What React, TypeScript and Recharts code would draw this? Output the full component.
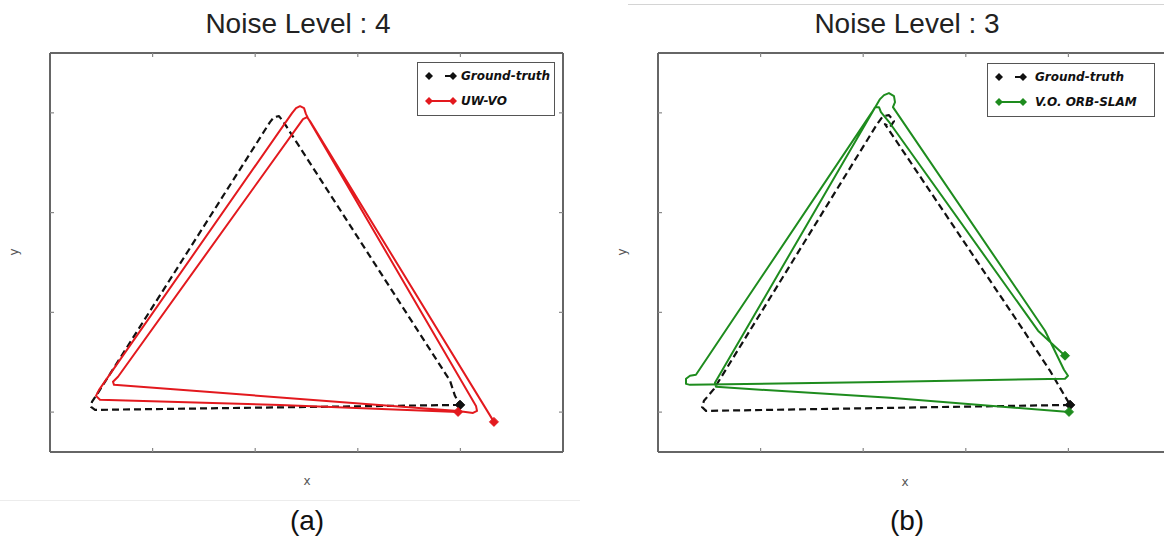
import React from 'react';
import { ComposedChart, Line, XAxis, YAxis, Legend } from 'recharts';

type Pt = { x: number; y: number };

// Axis set-up shared by both trajectory plots
const X_DOMAIN: [number, number] = [0, 5];
const Y_DOMAIN: [number, number] = [0.6, 4.6];
const xTicks = [1, 2, 3, 4];
const yTicks = [1, 2, 3, 4];

const GT_NAME = 'Ground-truth';

// (a) Noise level 4: ground truth and UW-VO estimate
const groundTruthA: Pt[] = [
  { x: 3.996, y: 1.072 },
  { x: 0.439, y: 1.022 },
  { x: 0.4, y: 1.052 },
  { x: 0.409, y: 1.103 },
  { x: 0.468, y: 1.193 },
  { x: 2.144, y: 3.907 },
  { x: 2.183, y: 3.957 },
  { x: 2.232, y: 3.967 },
  { x: 2.271, y: 3.917 },
  { x: 3.899, y: 1.314 },
  { x: 3.947, y: 1.163 },
  { x: 3.996, y: 1.072 },
];

const uwVo: Pt[] = [
  { x: 3.977, y: 1.002 },
  { x: 2.242, y: 1.072 },
  { x: 0.487, y: 1.123 },
  { x: 0.448, y: 1.163 },
  { x: 0.478, y: 1.223 },
  { x: 2.359, y: 3.997 },
  { x: 2.398, y: 4.047 },
  { x: 2.437, y: 4.067 },
  { x: 2.476, y: 4.047 },
  { x: 2.495, y: 3.987 },
  { x: 2.515, y: 3.947 },
  { x: 4.152, y: 1.062 },
  { x: 4.162, y: 1.012 },
  { x: 4.123, y: 0.992 },
  { x: 3.977, y: 1.012 },
  { x: 0.624, y: 1.273 },
  { x: 0.614, y: 1.304 },
  { x: 0.663, y: 1.354 },
  { x: 2.466, y: 3.937 },
  { x: 2.505, y: 3.957 },
  { x: 2.534, y: 3.917 },
  { x: 4.327, y: 0.902 },
];

// (b) Noise level 3: ground truth and V.O. ORB-SLAM estimate
const groundTruthB: Pt[] = [
  { x: 4.016, y: 1.072 },
  { x: 0.468, y: 1.012 },
  { x: 0.429, y: 1.052 },
  { x: 0.448, y: 1.113 },
  { x: 0.546, y: 1.233 },
  { x: 2.135, y: 3.887 },
  { x: 2.193, y: 3.967 },
  { x: 2.251, y: 3.977 },
  { x: 2.3, y: 3.917 },
  { x: 2.261, y: 3.856 },
  { x: 2.212, y: 3.887 },
  { x: 3.558, y: 1.826 },
  { x: 3.821, y: 1.414 },
  { x: 4.016, y: 1.072 },
];

const orbSlam: Pt[] = [
  { x: 4.006, y: 1.002 },
  { x: 2.261, y: 1.143 },
  { x: 0.565, y: 1.253 },
  { x: 0.555, y: 1.294 },
  { x: 2.164, y: 4.138 },
  { x: 2.203, y: 4.178 },
  { x: 2.251, y: 4.198 },
  { x: 2.3, y: 4.168 },
  { x: 2.31, y: 4.108 },
  { x: 2.29, y: 4.057 },
  { x: 3.772, y: 1.816 },
  { x: 3.957, y: 1.424 },
  { x: 3.996, y: 1.364 },
  { x: 3.967, y: 1.334 },
  { x: 2.164, y: 1.303 },
  { x: 0.312, y: 1.273 },
  { x: 0.273, y: 1.283 },
  { x: 0.273, y: 1.334 },
  { x: 0.312, y: 1.364 },
  { x: 0.37, y: 1.374 },
  { x: 2.086, y: 4.007 },
  { x: 2.115, y: 4.057 },
  { x: 2.154, y: 4.057 },
  { x: 2.173, y: 4.007 },
  { x: 2.261, y: 3.896 },
  { x: 3.704, y: 1.816 },
  { x: 3.967, y: 1.565 },
];

const FRAME = '#666';
const TICK = '#888';
const GT_COLOR = '#111';
const RED = '#e3191e';
const GREEN = '#1e8c1e';
const LEGEND_FONT = '"DejaVu Sans", sans-serif';
const TEXT_FONT = '"Liberation Sans", Arial, sans-serif';

const PLOT_TOP = 53;
const PLOT_BOTTOM_GAP = 86;
const PLOT_WIDTH = 513;

const diamond = (cx: number, cy: number, r: number) =>
  `M${cx},${cy - r}L${cx + r},${cy}L${cx},${cy + r}L${cx - r},${cy}Z`;

// Tick labels are left blank; only the inward tick marks are drawn
const blankTick = (props: any) => <g key={`t-${props.index}`} />;

// Inward tick marks hanging from the top edge of the frame
const topTickMark = (props: any) => (
  <line
    key={`tt-${props.index}`}
    x1={props.x}
    x2={props.x}
    y1={PLOT_TOP}
    y2={PLOT_TOP + 4}
    stroke={TICK}
    strokeWidth={1.2}
  />
);

// Inward tick marks on the right edge of the frame
const rightTickMark = (plotRight: number) => (props: any) => (
  <line
    key={`rt-${props.index}`}
    x1={plotRight}
    x2={plotRight - 4}
    y1={props.y}
    y2={props.y}
    stroke={TICK}
    strokeWidth={1.2}
  />
);

// Diamonds only at the first and last pose of a trajectory
function endMarkers(color: string, count: number) {
  return (props: any) => {
    const { cx, cy, index } = props;
    if (index !== 0 && index !== count - 1) return <g key={`m-${index}`} />;
    return (
      <path
        key={`m-${index}`}
        d={diamond(cx, cy, 4.5)}
        fill={color}
        stroke={color}
        strokeWidth={1}
        strokeDasharray="none"
      />
    );
  };
}

type LegendCfg = { left: number; top: number; width: number; textLeft: number };

function TrajectoryLegend({ payload, cfg }: { payload?: any[]; cfg: LegendCfg }) {
  const items = payload || [];
  return (
    <div
      style={{
        width: cfg.width,
        height: 54,
        boxSizing: 'border-box',
        border: '1.5px solid #555',
        background: '#fff',
        position: 'relative',
      }}
    >
      {items.map((entry: any, i: number) => {
        const dashed = entry.value === GT_NAME;
        const rowY = dashed ? 13 : 38;
        const color = entry.color;
        return (
          <div key={i} style={{ position: 'absolute', left: 0, top: rowY - 10, height: 20, width: cfg.width }}>
            <svg width={cfg.textLeft} height={20} style={{ position: 'absolute', left: 0, top: 0 }}>
              {dashed ? (
                <line x1={27} x2={35} y1={10} y2={10} stroke={color} strokeWidth={2} />
              ) : (
                <line x1={11} x2={35} y1={10} y2={10} stroke={color} strokeWidth={2} />
              )}
              <path d={diamond(11, 10, 4)} fill={color} />
              <path d={diamond(35, 10, 4)} fill={color} />
            </svg>
            <span
              style={{
                position: 'absolute',
                left: cfg.textLeft,
                top: 2,
                fontFamily: LEGEND_FONT,
                fontWeight: 'bold',
                fontStyle: 'italic',
                fontSize: 12,
                lineHeight: '16px',
                color: '#111',
                whiteSpace: 'nowrap',
              }}
            >
              {entry.value}
            </span>
          </div>
        );
      })}
    </div>
  );
}

type PanelProps = {
  width: number;
  plotLeft: number;
  gt: Pt[];
  est: Pt[];
  estName: string;
  estColor: string;
  legend: LegendCfg;
};

function TrajectoryPanel({ width, plotLeft, gt, est, estName, estColor, legend }: PanelProps) {
  const plotRight = plotLeft + PLOT_WIDTH;
  const margin = { top: PLOT_TOP, bottom: PLOT_BOTTOM_GAP, left: plotLeft, right: width - plotRight };
  const axisLine = { stroke: FRAME, strokeWidth: 2 };
  const tickLine = { stroke: TICK, strokeWidth: 1.2 };
  return (
    <ComposedChart width={width} height={538} margin={margin}>
      <XAxis
        xAxisId="bottom"
        type="number"
        dataKey="x"
        domain={X_DOMAIN}
        ticks={xTicks}
        allowDataOverflow
        orientation="bottom"
        mirror
        tick={blankTick}
        tickSize={4}
        axisLine={axisLine}
        tickLine={tickLine}
      />
      <XAxis
        xAxisId="top"
        type="number"
        dataKey="x"
        domain={X_DOMAIN}
        ticks={xTicks}
        allowDataOverflow
        orientation="top"
        mirror
        tick={topTickMark}
        tickLine={false}
        axisLine={axisLine}
      />
      <YAxis
        yAxisId="left"
        type="number"
        domain={Y_DOMAIN}
        ticks={yTicks}
        allowDataOverflow
        orientation="left"
        mirror
        tick={blankTick}
        tickSize={4}
        axisLine={axisLine}
        tickLine={tickLine}
      />
      <YAxis
        yAxisId="right"
        type="number"
        domain={Y_DOMAIN}
        ticks={yTicks}
        allowDataOverflow
        orientation="right"
        mirror
        tick={rightTickMark(plotRight)}
        tickLine={false}
        axisLine={axisLine}
      />
      <Line
        xAxisId="bottom"
        yAxisId="left"
        data={gt}
        dataKey="y"
        name={GT_NAME}
        type="linear"
        stroke={GT_COLOR}
        strokeWidth={2.2}
        strokeDasharray="7 4"
        strokeLinejoin="round"
        dot={endMarkers(GT_COLOR, gt.length)}
        activeDot={false}
        isAnimationActive={false}
      />
      <Line
        xAxisId="bottom"
        yAxisId="left"
        data={est}
        dataKey="y"
        name={estName}
        type="linear"
        stroke={estColor}
        strokeWidth={2}
        strokeLinejoin="round"
        dot={endMarkers(estColor, est.length)}
        activeDot={false}
        isAnimationActive={false}
      />
      <Legend
        layout="vertical"
        align="center"
        verticalAlign="middle"
        wrapperStyle={{ left: legend.left, top: legend.top, width: legend.width, height: 54 }}
        content={(p: any) => <TrajectoryLegend payload={p.payload} cfg={legend} />}
      />
    </ComposedChart>
  );
}

export default function App() {
  return (
    <div
      style={{
        position: 'absolute',
        left: 0,
        top: 0,
        width: 1164,
        height: 538,
        background: '#fff',
        overflow: 'hidden',
      }}
    >
      <div style={{ position: 'absolute', left: 0, top: 0 }}>
        <TrajectoryPanel
          width={600}
          plotLeft={50}
          gt={groundTruthA}
          est={uwVo}
          estName="UW-VO"
          estColor={RED}
          legend={{ left: 417, top: 62, width: 138, textLeft: 43 }}
        />
      </div>
      <div style={{ position: 'absolute', left: 600, top: 0 }}>
        <TrajectoryPanel
          width={580}
          plotLeft={58}
          gt={groundTruthB}
          est={orbSlam}
          estName="V.O. ORB-SLAM"
          estColor={GREEN}
          legend={{ left: 387, top: 63, width: 168, textLeft: 47 }}
        />
      </div>
      <svg
        width={1164}
        height={538}
        style={{ position: 'absolute', left: 0, top: 0, pointerEvents: 'none' }}
      >
        <line x1={0} x2={580} y1={500.5} y2={500.5} stroke="#ececec" strokeWidth={1} />
        <line x1={628} x2={1164} y1={4.5} y2={4.5} stroke="#d4d4d4" strokeWidth={1} />
        <text x={298} y={33} textAnchor="middle" fontFamily={TEXT_FONT} fontSize={28} fill="#222">
          Noise Level : 4
        </text>
        <text x={907} y={33} textAnchor="middle" fontFamily={TEXT_FONT} fontSize={28} fill="#222">
          Noise Level : 3
        </text>
        <text x={307} y={485} textAnchor="middle" fontFamily={LEGEND_FONT} fontSize={12} fill="#555">
          x
        </text>
        <text x={905} y={486} textAnchor="middle" fontFamily={LEGEND_FONT} fontSize={12} fill="#555">
          x
        </text>
        <text x={18} y={252} textAnchor="middle" fontFamily={LEGEND_FONT} fontSize={12} fill="#555" transform="rotate(-90 18 252)">
          y
        </text>
        <text x={626} y={252} textAnchor="middle" fontFamily={LEGEND_FONT} fontSize={12} fill="#555" transform="rotate(-90 626 252)">
          y
        </text>
        <text x={307} y={530} textAnchor="middle" fontFamily={TEXT_FONT} fontSize={28} fill="#111">
          (a)
        </text>
        <text x={907} y={530} textAnchor="middle" fontFamily={TEXT_FONT} fontSize={28} fill="#111">
          (b)
        </text>
      </svg>
    </div>
  );
}
